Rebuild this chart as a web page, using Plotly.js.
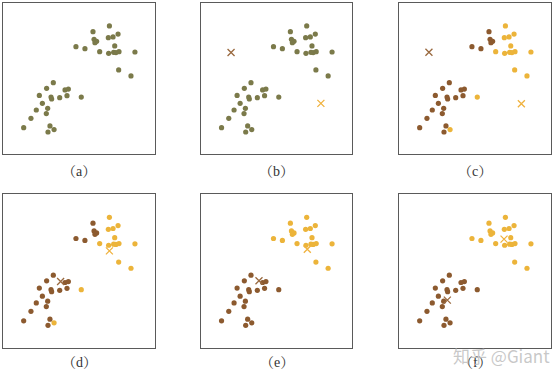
<!DOCTYPE html>
<html><head><meta charset="utf-8">
<script src="https://cdn.plot.ly/plotly-3.0.1.min.js"></script>
<style>html,body{margin:0;padding:0;background:#fff}#c{width:553px;height:372px}</style>
</head><body><div id="c"></div>
<script>
// sample points (shared by all panels)
const ptX = [70.0,59.2,75.7,69.3,72.4,59.9,61.6,60.5,73.5,48.0,53.9,63.6,69.5,72.8,74.3,76.3,86.8,76.1,84.2,
             33.1,28.7,40.8,43.0,23.9,31.6,32.0,37.3,42.1,51.5,25.9,29.4,21.9,28.5,18.4,13.6,30.9,33.6,29.6];
const ptY = [85.0,81.2,79.6,77.2,77.7,76.1,74.8,73.9,71.7,71.2,69.9,67.9,66.8,67.5,67.3,67.9,67.7,55.8,51.8,
             47.3,43.6,42.5,43.1,38.9,37.8,36.5,37.4,38.7,37.8,33.6,30.3,29.2,26.8,23.7,17.5,18.6,16.2,14.6];
// cluster labels per panel (A = brown, B = yellow, U = unassigned)
const labelsA = ptX.map(()=> 'U');
const labelsB = ptX.map(()=> 'U');
const labelsC = ['B','A','B','B','B','A','A','A','B','A','A','B','B','B','B','B','B','B','B',
                 'A','A','A','A','A','A','A','A','A','B','A','A','A','A','A','A','A','B','A'];
const labelsD = labelsC.slice();
const labelsE = ['B','B','B','B','B','B','B','B','B','B','B','B','B','B','B','B','B','B','B',
                 'A','A','A','A','A','A','A','A','A','A','A','A','A','A','A','A','A','A','A'];
const labelsF = labelsE.slice();
// centroid positions per panel [brownX, brownY, yellowX, yellowY]
const centB = [19.9, 67.3, 79.4, 33.6];
const centC = [19.7, 67.5, 80.5, 33.4];
const centD = [37.9, 43.1, 70.0, 63.1];
const centE = [38.4, 43.6, 70.4, 64.2];
const centF = [31.8, 31.0, 69.1, 70.8];
const panelNames = ['（a）','（b）','（c）','（d）','（e）','（f）'];

const colU = '#7b7a4a', colA = '#8c5a2f', colB = '#ecb43a';
const colXA = '#9a6a40', colXB = '#f0b23e';

const panels = [
  {lab: labelsA, cent: null},
  {lab: labelsB, cent: centB},
  {lab: labelsC, cent: centC},
  {lab: labelsD, cent: centD},
  {lab: labelsE, cent: centE},
  {lab: labelsF, cent: centF}
];
const W = 553, H = 372;
const boxes = [
  [3,155,3.3,154],[201,352,3.3,154],[399,551,3.3,154],
  [3,155,194.3,347.7],[201,352,194.3,347.7],[399,551,194.3,347.7]
];
const traces = [];
const layout = {
  width: W, height: H, margin:{l:0,r:0,t:0,b:0},
  paper_bgcolor:'#fff', plot_bgcolor:'#fff', showlegend:false,
  annotations: []
};
panels.forEach((p,i)=>{
  const n = i+1;
  const xa = n===1 ? 'x' : 'x'+n, ya = n===1 ? 'y' : 'y'+n;
  const b = boxes[i];
  const axBase = {showgrid:false, zeroline:false, showticklabels:false, ticks:'',
                  showline:true, mirror:true, linecolor:'#5a5a5a', linewidth:1, range:[0,100], fixedrange:true};
  layout[(n===1?'xaxis':'xaxis'+n)] = Object.assign({}, axBase, {domain:[b[0]/W, b[1]/W], anchor: ya});
  layout[(n===1?'yaxis':'yaxis'+n)] = Object.assign({}, axBase, {domain:[1-b[3]/H, 1-b[2]/H], anchor: xa});
  [['U',colU],['A',colA],['B',colB]].forEach(([k,c])=>{
    const idx = p.lab.map((l,j)=> l===k ? j : -1).filter(j=>j>=0);
    if (!idx.length) return;
    traces.push({type:'scatter', mode:'markers', xaxis:xa, yaxis:ya,
      x: idx.map(j=>ptX[j]), y: idx.map(j=>ptY[j]),
      marker:{color:c, size:5.2, line:{width:0}}, hoverinfo:'skip'});
  });
  if (p.cent) {
    traces.push({type:'scatter', mode:'markers', xaxis:xa, yaxis:ya,
      x:[p.cent[0]], y:[p.cent[1]], marker:{symbol:'x-thin-open', size:7, color:colXA, line:{color:colXA, width:1.3}}, hoverinfo:'skip'});
    traces.push({type:'scatter', mode:'markers', xaxis:xa, yaxis:ya,
      x:[p.cent[2]], y:[p.cent[3]], marker:{symbol:'x-thin-open', size:7, color:colXB, line:{color:colXB, width:1.3}}, hoverinfo:'skip'});
  }
  const cx = (b[0]+b[1])/2;
  const ly = i<3 ? 171.5 : 362;
  layout.annotations.push({xref:'paper', yref:'paper', x: cx/W, y: 1-ly/H, xanchor:'center', yanchor:'middle',
    text: panelNames[i], showarrow:false, font:{family:'Liberation Serif, Noto Serif CJK SC, Noto Sans CJK SC, serif', size:14, color:'#333'}});
});
// watermark
layout.annotations.push({xref:'paper', yref:'paper', x: 552/W, y: 1-355/H, xanchor:'right', yanchor:'middle',
  text:'知乎 @Giant', showarrow:false, font:{family:'Noto Sans CJK SC, sans-serif', size:17, color:'rgba(190,190,190,0.85)'}});
Plotly.newPlot('c', traces, layout, {staticPlot:true});
</script></body></html>
